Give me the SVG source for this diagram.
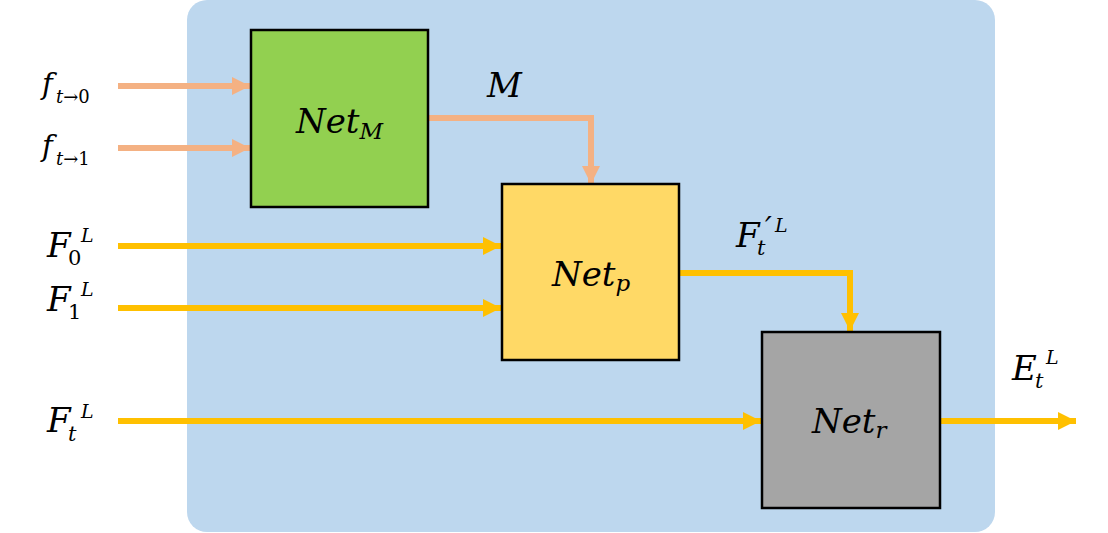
<svg xmlns="http://www.w3.org/2000/svg" width="1108" height="533" viewBox="0 0 1108 533">
<style>
.m{font-family:"DejaVu Serif","Liberation Serif",serif;font-style:italic;fill:#000}
.u{font-style:normal}
.box{stroke:#000;stroke-width:2.5}
.o{stroke:#F4B183;stroke-width:6;fill:none}
.g{stroke:#FFC000;stroke-width:6;fill:none}
</style>
<defs>
<marker id="ao" markerUnits="userSpaceOnUse" markerWidth="18" markerHeight="18" refX="18" refY="9" orient="auto"><path d="M0,0L18,9L0,18z" fill="#F4B183"/></marker>
<marker id="ag" markerUnits="userSpaceOnUse" markerWidth="18" markerHeight="18" refX="18" refY="9" orient="auto"><path d="M0,0L18,9L0,18z" fill="#FFC000"/></marker>
</defs>
<rect x="187" y="0" width="808" height="532" rx="20" fill="#BDD7EE"/>
<g id="connectors">
<path class="o" d="M118,86H250" marker-end="url(#ao)"/>
<path class="o" d="M118,148H250" marker-end="url(#ao)"/>
<path class="o" d="M428,118H591V184" marker-end="url(#ao)"/>
<path class="g" d="M118,246H501" marker-end="url(#ag)"/>
<path class="g" d="M118,308H501" marker-end="url(#ag)"/>
<path class="g" d="M118,421H761" marker-end="url(#ag)"/>
<path class="g" d="M679,273H850V331" marker-end="url(#ag)"/>
<path class="g" d="M940,421H1076" marker-end="url(#ag)"/>
</g>
<g id="netM">
<rect class="box" x="251" y="30" width="177" height="177" fill="#92D050"/>
<text class="m" x="296" y="133" font-size="34">Net<tspan dy="6" font-size="23">M</tspan></text>
</g>
<g id="netP">
<rect class="box" x="502" y="184" width="177" height="176" fill="#FFD966"/>
<text class="m" x="552" y="286" font-size="34">Net<tspan dy="5" font-size="23">p</tspan></text>
</g>
<g id="netR">
<rect class="box" x="762" y="332" width="178" height="176" fill="#A5A5A5"/>
<text class="m" x="812" y="433" font-size="34">Net<tspan dy="5" font-size="23">r</tspan></text>
</g>
<g id="labels">
<text class="m" x="42" y="94" font-size="29">f<tspan x="56" y="103" font-size="18">t</tspan><tspan class="u" font-size="18">→0</tspan></text>
<text class="m" x="42" y="156" font-size="29">f<tspan x="56" y="165" font-size="18">t</tspan><tspan class="u" font-size="18">→1</tspan></text>
<text class="m" x="487" y="97" font-size="34">M</text>
<text class="m" x="47" y="257" font-size="34">F<tspan class="u" x="68" y="265" font-size="21">0</tspan><tspan x="81" y="242" font-size="19">L</tspan></text>
<text class="m" x="47" y="311" font-size="34">F<tspan class="u" x="68" y="319" font-size="21">1</tspan><tspan x="81" y="296" font-size="19">L</tspan></text>
<text class="m" x="47" y="432" font-size="34">F<tspan x="68" y="441" font-size="21">t</tspan><tspan x="81" y="418" font-size="19">L</tspan></text>
<text class="m" x="736" y="247" font-size="34">F<tspan x="757" y="255" font-size="21">t</tspan><tspan x="765" y="238" font-size="30">′</tspan><tspan x="775" y="232" font-size="19">L</tspan></text>
<text class="m" x="1012" y="380" font-size="34">E<tspan x="1035" y="388" font-size="21">t</tspan><tspan x="1046" y="364" font-size="19">L</tspan></text>
</g>
</svg>
